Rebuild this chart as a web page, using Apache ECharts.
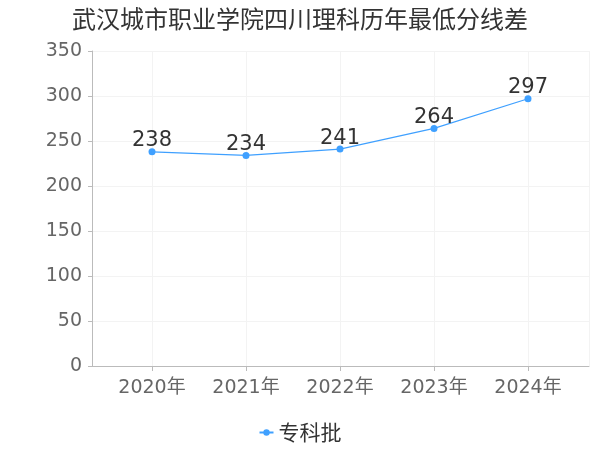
<!DOCTYPE html>
<html><head><meta charset="utf-8">
<script src="https://cdn.jsdelivr.net/npm/echarts@6/dist/echarts.min.js"></script>
<style>html,body{margin:0;padding:0;background:#fff}#c{width:600px;height:450px}</style>
</head><body><div id="c"></div>
<script>
var title = '武汉城市职业学院四川理科历年最低分线差';
var categories = ['2020年','2021年','2022年','2023年','2024年'];
var seriesName = '专科批';
var values = [238, 234, 241, 264, 297];
var yMin = 0, yMax = 350, yStep = 50;

var chart = echarts.init(document.getElementById('c'));
var cjk = '"Noto Sans CJK SC", sans-serif';
var ff = '"DejaVu Sans", "Noto Sans CJK SC", sans-serif';
chart.setOption({
  backgroundColor: '#fff',
  title: {text: title, left: 'center', top: 2, textStyle: {fontSize: 24, fontWeight: 'normal', color: '#333', fontFamily: cjk}},
  legend: {bottom: 2, left: 'center', itemWidth: 14, itemHeight: 8, itemGap: 4, data: [seriesName], textStyle: {fontSize: 21, color: '#333', fontFamily: cjk}},
  grid: [
    {left: 92, right: 11, top: 51, bottom: 84},
    {left: 152, right: 72, top: 51, bottom: 84}
  ],
  xAxis: [
    {type: 'value', gridIndex: 0, min: 0, max: 1, interval: 1, offset: 4,
     axisLine: {show: true, lineStyle: {color: '#bbb'}}, axisTick: {show: false}, axisLabel: {show: false},
     splitLine: {show: true, lineStyle: {color: '#f3f3f3'}}},
    {type: 'category', gridIndex: 1, data: categories, boundaryGap: false, offset: 4,
     axisLine: {show: false}, axisTick: {show: true, length: 5, lineStyle: {color: '#bbb'}},
     axisLabel: {fontSize: 19, color: '#666', margin: 9, fontFamily: ff},
     splitLine: {show: true, lineStyle: {color: '#f3f3f3'}}}
  ],
  yAxis: [
    {type: 'value', gridIndex: 0, min: yMin, max: yMax, interval: yStep, offset: 4,
     axisLine: {show: true, lineStyle: {color: '#bbb'}}, axisTick: {show: true, length: 4, lineStyle: {color: '#bbb'}},
     axisLabel: {fontSize: 19, color: '#666', margin: 6, fontFamily: ff},
     splitLine: {show: true, lineStyle: {color: '#f3f3f3'}}},
    {type: 'value', gridIndex: 1, min: yMin, max: yMax, interval: yStep, show: false, splitLine: {show: false}}
  ],
  series: [{
    name: seriesName, type: 'line', xAxisIndex: 1, yAxisIndex: 1, data: values,
    smooth: false, symbol: 'circle', symbolSize: 7,
    itemStyle: {color: '#3fa0ff'}, lineStyle: {color: '#3fa0ff', width: 1.2},
    label: {show: true, position: 'top', distance: -3, fontSize: 21, color: '#333', fontFamily: ff}
  }]
});
</script></body></html>
